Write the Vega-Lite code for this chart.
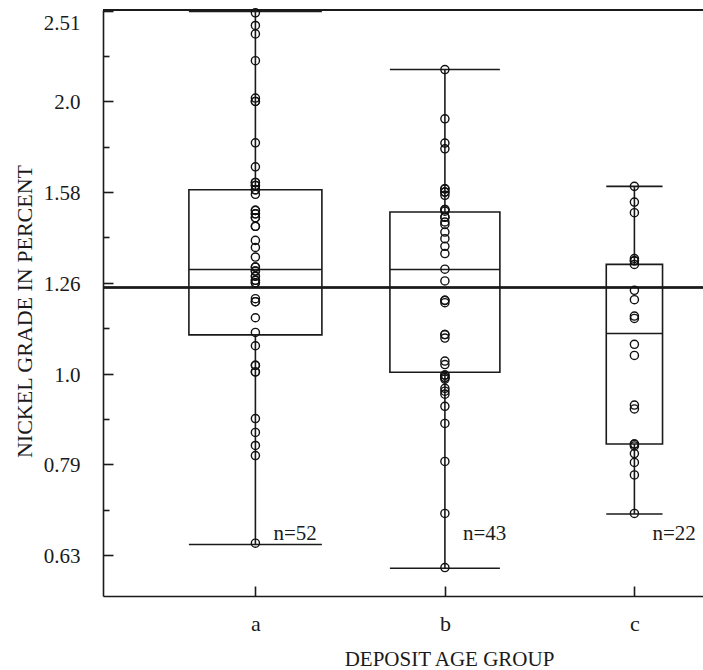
{
  "$schema": "https://vega.github.io/schema/vega-lite/v6.json",
  "width": 600,
  "height": 586,
  "autosize": "none",
  "padding": {"left": 103, "top": 10, "right": 0, "bottom": 74},
  "background": "white",
  "config": {
    "view": {"stroke": null},
    "font": "Liberation Serif, Times New Roman, DejaVu Serif, serif",
    "axis": {"grid": false, "domainColor": "#1a1a1a", "domainWidth": 1.6, "tickColor": "#1a1a1a", "tickWidth": 1.6, "labelColor": "#1a1a1a", "titleColor": "#1a1a1a", "labelFont": "Liberation Serif, Times New Roman, DejaVu Serif, serif", "titleFont": "Liberation Serif, Times New Roman, DejaVu Serif, serif", "titleFontWeight": "normal"}
  },
  "datasets": {
    "groups": [
      {"group": "a", "n": 52, "label": "n=52", "min": 0.648, "q1": 1.103, "median": 1.302, "q3": 1.594, "max": 2.506},
      {"group": "b", "n": 43, "label": "n=43", "min": 0.610, "q1": 1.003, "median": 1.302, "q3": 1.507, "max": 2.163},
      {"group": "c", "n": 22, "label": "n=22", "min": 0.700, "q1": 0.836, "median": 1.107, "q3": 1.319, "max": 1.608}
    ],
    "points": [
      {"group": "a", "value": 2.498}, {"group": "a", "value": 2.419}, {"group": "a", "value": 2.368}, {"group": "a", "value": 2.212},
      {"group": "a", "value": 2.012}, {"group": "a", "value": 1.995}, {"group": "a", "value": 1.995}, {"group": "a", "value": 1.796},
      {"group": "a", "value": 1.690}, {"group": "a", "value": 1.624}, {"group": "a", "value": 1.624}, {"group": "a", "value": 1.612},
      {"group": "a", "value": 1.612}, {"group": "a", "value": 1.594}, {"group": "a", "value": 1.594}, {"group": "a", "value": 1.576},
      {"group": "a", "value": 1.513}, {"group": "a", "value": 1.513}, {"group": "a", "value": 1.500}, {"group": "a", "value": 1.500},
      {"group": "a", "value": 1.485}, {"group": "a", "value": 1.485}, {"group": "a", "value": 1.453}, {"group": "a", "value": 1.453},
      {"group": "a", "value": 1.402}, {"group": "a", "value": 1.377}, {"group": "a", "value": 1.344}, {"group": "a", "value": 1.310},
      {"group": "a", "value": 1.310}, {"group": "a", "value": 1.297}, {"group": "a", "value": 1.297}, {"group": "a", "value": 1.280},
      {"group": "a", "value": 1.280}, {"group": "a", "value": 1.267}, {"group": "a", "value": 1.267}, {"group": "a", "value": 1.259},
      {"group": "a", "value": 1.259}, {"group": "a", "value": 1.209}, {"group": "a", "value": 1.200}, {"group": "a", "value": 1.200},
      {"group": "a", "value": 1.152}, {"group": "a", "value": 1.110}, {"group": "a", "value": 1.073}, {"group": "a", "value": 1.021},
      {"group": "a", "value": 1.021}, {"group": "a", "value": 1.004}, {"group": "a", "value": 1.004}, {"group": "a", "value": 0.892},
      {"group": "a", "value": 0.861}, {"group": "a", "value": 0.833}, {"group": "a", "value": 0.812}, {"group": "a", "value": 0.650},
      {"group": "b", "value": 2.163}, {"group": "b", "value": 1.909}, {"group": "b", "value": 1.795}, {"group": "b", "value": 1.769},
      {"group": "b", "value": 1.598}, {"group": "b", "value": 1.598}, {"group": "b", "value": 1.585}, {"group": "b", "value": 1.585},
      {"group": "b", "value": 1.572}, {"group": "b", "value": 1.516}, {"group": "b", "value": 1.516}, {"group": "b", "value": 1.510},
      {"group": "b", "value": 1.487}, {"group": "b", "value": 1.487}, {"group": "b", "value": 1.469}, {"group": "b", "value": 1.460},
      {"group": "b", "value": 1.432}, {"group": "b", "value": 1.408}, {"group": "b", "value": 1.381}, {"group": "b", "value": 1.356},
      {"group": "b", "value": 1.303}, {"group": "b", "value": 1.265}, {"group": "b", "value": 1.204}, {"group": "b", "value": 1.204},
      {"group": "b", "value": 1.197}, {"group": "b", "value": 1.104}, {"group": "b", "value": 1.104}, {"group": "b", "value": 1.094},
      {"group": "b", "value": 1.032}, {"group": "b", "value": 1.023}, {"group": "b", "value": 0.996}, {"group": "b", "value": 0.996},
      {"group": "b", "value": 0.990}, {"group": "b", "value": 0.990}, {"group": "b", "value": 0.986}, {"group": "b", "value": 0.963},
      {"group": "b", "value": 0.956}, {"group": "b", "value": 0.949}, {"group": "b", "value": 0.920}, {"group": "b", "value": 0.881},
      {"group": "b", "value": 0.800}, {"group": "b", "value": 0.701}, {"group": "b", "value": 0.611},
      {"group": "c", "value": 1.608}, {"group": "c", "value": 1.545}, {"group": "c", "value": 1.504}, {"group": "c", "value": 1.339},
      {"group": "c", "value": 1.331}, {"group": "c", "value": 1.331}, {"group": "c", "value": 1.319}, {"group": "c", "value": 1.235},
      {"group": "c", "value": 1.206}, {"group": "c", "value": 1.157}, {"group": "c", "value": 1.150}, {"group": "c", "value": 1.077},
      {"group": "c", "value": 1.047}, {"group": "c", "value": 0.923}, {"group": "c", "value": 0.914}, {"group": "c", "value": 0.836},
      {"group": "c", "value": 0.836}, {"group": "c", "value": 0.832}, {"group": "c", "value": 0.816}, {"group": "c", "value": 0.798},
      {"group": "c", "value": 0.773}, {"group": "c", "value": 0.701}
    ]
  },
  "layer": [
    {
      "data": {"name": "groups"},
      "mark": {"type": "bar", "fill": "transparent", "stroke": "#1a1a1a", "strokeWidth": 1.6},
      "encoding": {
        "x": {
          "field": "group", "type": "nominal",
          "scale": {"type": "point", "domain": ["a", "b", "c"], "padding": 0.5831, "align": 0.6896},
          "axis": {
            "title": "DEPOSIT AGE GROUP", "titleFontSize": 21, "titleX": 346, "titleY": 69,
            "titleBaseline": "alphabetic", "titleAlign": "center", "titleAnchor": null,
            "labelFontSize": 22, "labelAngle": 0, "labelBaseline": "alphabetic", "labelPadding": 44.5,
            "tickSize": -10
          }
        },
        "y": {
          "field": "q1", "type": "quantitative",
          "scale": {"type": "log", "domain": [0.5685, 2.516], "nice": false, "zero": false},
          "axis": {
            "title": "NICKEL GRADE IN PERCENT", "titleFontSize": 22, "titleX": -72, "titleY": 301,
            "titleBaseline": "alphabetic", "titleAlign": "center", "titleAngle": 270, "titleAnchor": null,
            "values": [0.631, 0.708, 0.794, 0.891, 1, 1.122, 1.259, 1.413, 1.585, 1.778, 1.995, 2.239, 2.512],
            "labelExpr": "abs(10*log(datum.value)/LN10 - round(10*log(datum.value)/LN10)) > 0.3 ? '' : datum.value < 0.7 ? '0.63' : datum.value < 0.9 ? '0.79' : datum.value < 1.1 ? '1.0' : datum.value < 1.4 ? '1.26' : datum.value < 1.8 ? '1.58' : datum.value < 2.2 ? '2.0' : '2.51'",
            "labelFontSize": 21, "labelPadding": 33, "labelOffset": 1.5, "labelFlush": 2,
            "labelOverlap": false, "labelBound": false,
            "tickSize": {"condition": {"test": "abs(10*log(datum.value)/LN10 - round(10*log(datum.value)/LN10)) > 0.3", "value": -6}, "value": -10}
          }
        },
        "y2": {"field": "q3"},
        "size": {"field": "n", "type": "quantitative", "scale": {"type": "linear", "domain": [0, 52], "range": [0, 133], "zero": true}, "legend": null}
      }
    },
    {
      "data": {"name": "groups"},
      "mark": {"type": "tick", "thickness": 1.6, "color": "#1a1a1a", "opacity": 1},
      "encoding": {
        "x": {"field": "group", "type": "nominal"},
        "y": {"field": "median", "type": "quantitative"},
        "size": {"field": "n", "type": "quantitative", "legend": null}
      }
    },
    {
      "data": {"name": "groups"},
      "mark": {"type": "tick", "thickness": 1.6, "color": "#1a1a1a", "opacity": 1},
      "encoding": {
        "x": {"field": "group", "type": "nominal"},
        "y": {"field": "max", "type": "quantitative"},
        "size": {"field": "n", "type": "quantitative", "legend": null}
      }
    },
    {
      "data": {"name": "groups"},
      "mark": {"type": "tick", "thickness": 1.6, "color": "#1a1a1a", "opacity": 1},
      "encoding": {
        "x": {"field": "group", "type": "nominal"},
        "y": {"field": "min", "type": "quantitative"},
        "size": {"field": "n", "type": "quantitative", "legend": null}
      }
    },
    {
      "data": {"name": "groups"},
      "mark": {"type": "rule", "color": "#1a1a1a", "strokeWidth": 1.6},
      "encoding": {
        "x": {"field": "group", "type": "nominal"},
        "y": {"field": "q3", "type": "quantitative"},
        "y2": {"field": "max"}
      }
    },
    {
      "data": {"name": "groups"},
      "mark": {"type": "rule", "color": "#1a1a1a", "strokeWidth": 1.6},
      "encoding": {
        "x": {"field": "group", "type": "nominal"},
        "y": {"field": "min", "type": "quantitative"},
        "y2": {"field": "q1"}
      }
    },
    {
      "data": {"name": "groups"},
      "mark": {"type": "rule", "color": "#1a1a1a", "strokeWidth": 1.8},
      "encoding": {"y": {"datum": 1.244, "type": "quantitative"}}
    },
    {
      "data": {"name": "groups"},
      "mark": {"type": "rule", "color": "#1a1a1a", "strokeWidth": 2},
      "encoding": {"y": {"datum": 2.516, "type": "quantitative"}}
    },
    {
      "data": {"name": "points"},
      "mark": {"type": "point", "shape": "circle", "filled": false, "size": 66, "strokeWidth": 1.4, "color": "#111", "opacity": 1},
      "encoding": {
        "x": {"field": "group", "type": "nominal"},
        "y": {"field": "value", "type": "quantitative"}
      }
    },
    {
      "data": {"name": "groups"},
      "mark": {"type": "text", "align": "left", "baseline": "alphabetic", "dx": 18, "fontSize": 21, "font": "Liberation Serif, Times New Roman, DejaVu Serif, serif", "color": "#1a1a1a"},
      "encoding": {
        "x": {"field": "group", "type": "nominal"},
        "y": {"datum": 0.6554, "type": "quantitative"},
        "text": {"field": "label"}
      }
    }
  ]
}
